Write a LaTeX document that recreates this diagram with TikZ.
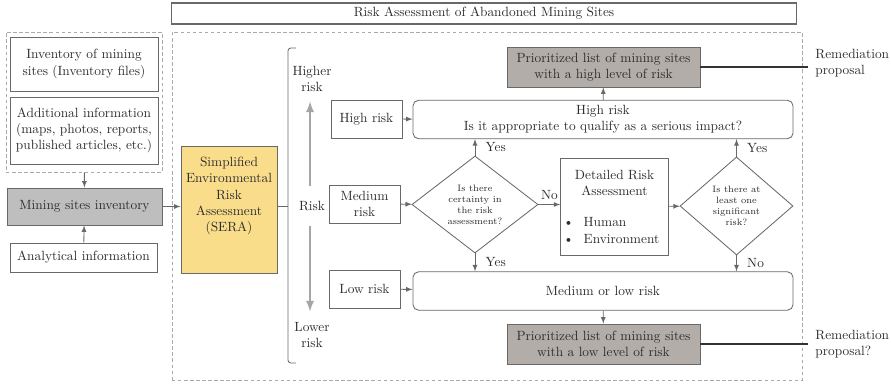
\documentclass[tikz,border=0pt]{standalone}
\usetikzlibrary{arrows,shapes.geometric}
\definecolor{linegrey}{RGB}{105,105,105}
\definecolor{inkgrey}{RGB}{45,45,45}
\definecolor{dashgrey}{RGB}{170,170,170}
\definecolor{listgrey}{RGB}{178,173,168}
\definecolor{invgrey}{RGB}{190,190,190}
\definecolor{serayellow}{RGB}{250,221,138}
\definecolor{scalegrey}{RGB}{165,165,165}

\begin{document}
\begin{tikzpicture}[->,>=latex,x=0.025cm,y=-0.025cm,line width=0.6pt,color=linegrey,
    every node/.style={text=inkgrey,font=\fontsize{9.5}{11.5}\selectfont},
    box/.style={draw,rectangle,fill=white,align=center,inner sep=2pt},
    listbox/.style={box,fill=listgrey,minimum width=4.825cm,minimum height=1cm},
    riskbox/.style={box,minimum width=1.775cm,minimum height=0.95cm},
    roundbox/.style={box,rounded corners=4pt,minimum width=9.5cm,minimum height=0.96cm},
    decision/.style={draw,diamond,fill=white,align=center,inner sep=0pt,
      font=\fontsize{6.6}{7.9}\selectfont},
    group/.style={draw=dashgrey,dash pattern=on 2.5pt off 1.8pt,inner sep=0pt},
    scalearrow/.style={scalegrey,line width=1.6pt},
    fork/.style={-,line width=1.1pt,draw=black!80}]
    \useasboundingbox (0,0) rectangle (891,385);

    % dashed frames
    \node[group,minimum width=3.9cm,minimum height=3.5cm] (inputs) at (84,102) {};
    \node[group,minimum width=15.75cm,minimum height=8.7cm] (sitebox) at (487,206) {};
    \node[box,line width=0.8pt,minimum width=15.6cm,minimum height=0.525cm] (title) at (484,13.5) {Risk Assessment of Abandoned Mining Sites};

    % inventory side
    \node[box,minimum width=3.7cm,minimum height=1.35cm] (invfiles) at (84,64) {Inventory of mining\\sites (Inventory files)};
    \node[box,minimum width=3.7cm,minimum height=1.675cm] (addinfo) at (84,130.5) {Additional information\\(maps, photos, reports,\\published articles, etc.)};
    \node[box,fill=invgrey,minimum width=3.875cm,minimum height=0.925cm] (siteinv) at (84.5,206.5) {Mining sites inventory};
    \node[box,minimum width=3.675cm,minimum height=0.725cm] (analytic) at (83.5,257.5) {Analytical information};

    \node[box,fill=serayellow,minimum width=2.4cm,minimum height=3.175cm] (sera) at (229,209.5) {};
    \node[align=center] (seratext) at (229,196) {Simplified\\Environmental\\Risk\\Assessment\\(SERA)};

    % risk scale
    \coordinate (brk) at (288,207);
    \draw[-,rounded corners=2pt] (296,48) -- (288,48) -- (288,363) -- (296,363);
    \node[align=center] (higher) at (312,79) {Higher\\risk};
    \node (riskmid) at (312,206) {Risk};
    \node[align=center] (lower) at (312,335) {Lower\\risk};

    \node[riskbox] (high) at (366.5,119) {High risk};
    \node[riskbox] (medium) at (364.5,204) {Medium\\risk};
    \node[riskbox] (low) at (364.5,289) {Low risk};

    \node[roundbox] (highq) at (603,119.5) {High risk\\Is it appropriate to qualify as a serious impact?};
    \node[roundbox] (lowq) at (603,291) {Medium or low risk};
    \node[listbox] (listhigh) at (603.5,67) {Prioritized list of mining sites\\with a high level of risk};
    \node[listbox] (listlow) at (603.5,344) {Prioritized list of mining sites\\with a low level of risk};

    \node[decision,minimum width=3.15cm,minimum height=2.425cm] (certain) at (475,204.5) {Is there\\certainty in\\the risk\\assessment?};
    \node[box,minimum width=2.675cm,minimum height=2.425cm,text width=2.55cm,align=left] (detailed) at (614.5,206.5)
      {{\centering Detailed Risk\\Assessment\par}\vspace{11pt}
       \mbox{\textbullet\hspace{7pt}Human}\\
       \mbox{\textbullet\hspace{7pt}Environment}};
    \node[decision,minimum width=2.825cm,minimum height=2.45cm] (significant) at (736.5,206) {Is there at\\least one\\significant\\risk?};

    \node[align=left,anchor=west,inner xsep=5pt] (remhigh) at (808,63) {Remediation\\proposal};
    \node[align=left,anchor=west,inner xsep=5pt] (remlow) at (808,344.5) {Remediation\\proposal?};

    \path (inputs) edge (siteinv)
          (analytic) edge (siteinv)
          (siteinv) edge (siteinv -| sera.west)
          (high) edge (highq)
          (medium) edge (certain)
          (low) edge (lowq)
          (certain) edge node[above] {No} (certain -| detailed.west)
          (detailed) edge (significant)
          (highq) edge (listhigh)
          (lowq) edge (listlow);
    \path (certain.north) edge node[right,xshift=4pt] {Yes} (certain.north |- highq.south)
          (certain.south) edge node[right,xshift=4pt] {Yes} (certain.south |- lowq.north)
          (significant.north) edge node[right,xshift=4pt] {Yes} (significant.north |- highq.south)
          (significant.south) edge node[right,xshift=4pt] {No} (significant.south |- lowq.north);
    \draw[-] (sera.east |- siteinv) -- (siteinv -| brk);

    \draw[scalearrow,shorten <=7.5pt,shorten >=3.2pt] ([xshift=-1.4pt]riskmid.north) -- ([xshift=-1.4pt]higher.south);
    \draw[scalearrow,shorten <=7.5pt,shorten >=4pt] ([xshift=-1.4pt]riskmid.south) -- ([xshift=-1.4pt]lower.north);

    \draw[fork] (listhigh.east) -- (listhigh.east -| remhigh.west);
    \draw[fork] (listlow.east) -- (listlow.east -| remlow.west);
\end{tikzpicture}
\end{document}
